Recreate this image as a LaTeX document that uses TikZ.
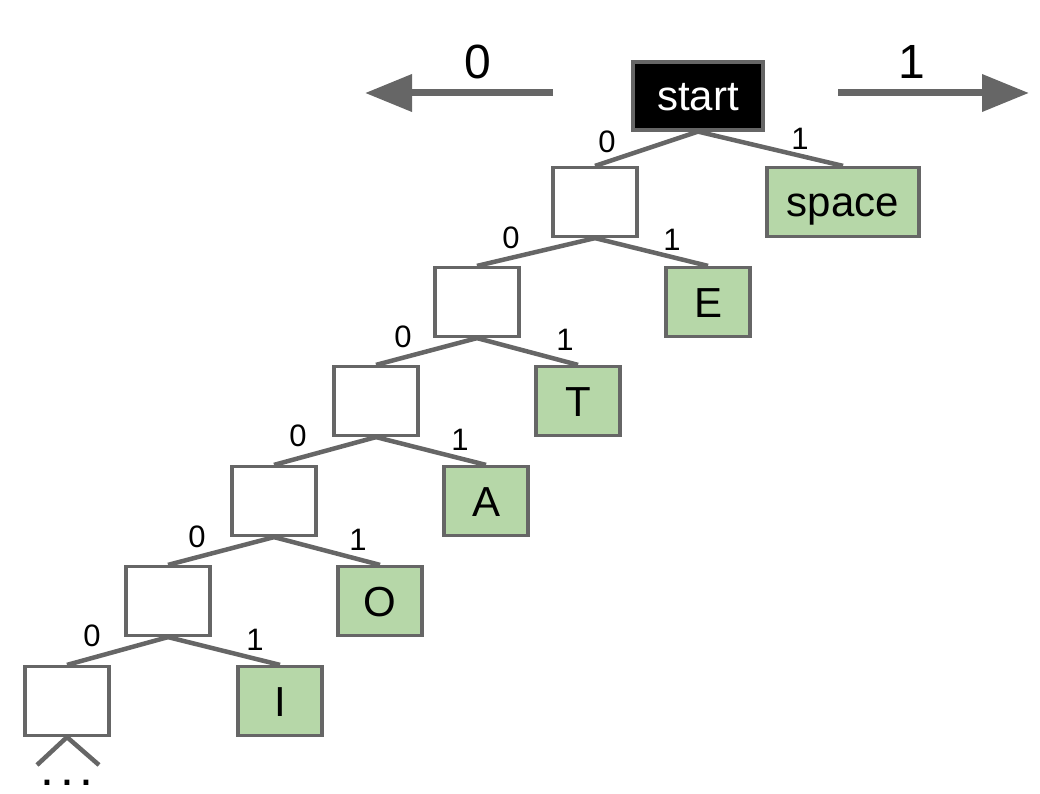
\documentclass[tikz,border=0pt]{standalone}
\usepackage{fontspec}
\setmainfont{Liberation Sans}
\usetikzlibrary{arrows.meta}
\definecolor{edgegray}{HTML}{666666}
\definecolor{leafgreen}{HTML}{B6D7A8}
\begin{document}
\begin{tikzpicture}[x=1pt,y=-1pt,
  box/.style={draw=edgegray,line width=3.2pt,minimum width=84pt,minimum height=69pt,inner sep=0pt,text height=30pt,text depth=0pt,font=\fontsize{42}{48}\selectfont},
  emptybox/.style={box,fill=white},
  leaf/.style={box,fill=leafgreen},
  edge/.style={draw=edgegray,line width=4.5pt},
  bit/.style={font=\fontsize{31}{36}\selectfont,inner sep=0pt},
  bigbit/.style={font=\fontsize{48}{54}\selectfont,inner sep=0pt},
  dirarrow/.style={draw=edgegray,line width=7pt,-{Triangle[length=47pt,width=36pt]}}]
\useasboundingbox (0,0) rectangle (1040,794);
% nodes
\node[box,fill=black,text=white,minimum width=130pt,minimum height=68pt] (start) at (698,96) {start};
\node[leaf,minimum width=152pt] (space) at (843,202) {space};
\node[emptybox] (n1) at (595,202) {};
\node[leaf] (E) at (708,302) {E};
\node[emptybox] (n2) at (477,302) {};
\node[leaf] (T) at (578,401) {T};
\node[emptybox] (n3) at (376,401) {};
\node[leaf] (A) at (486,501) {A};
\node[emptybox] (n4) at (274,501) {};
\node[leaf] (O) at (380,601) {O};
\node[emptybox] (n5) at (168,601) {};
\node[leaf] (I) at (280,701) {I};
\node[emptybox] (n6) at (67,701) {};
% edges
\draw[edge] (start.south) -- (n1.north);
\draw[edge] (start.south) -- (space.north);
\draw[edge] (n1.south) -- (n2.north);
\draw[edge] (n1.south) -- (E.north);
\draw[edge] (n2.south) -- (n3.north);
\draw[edge] (n2.south) -- (T.north);
\draw[edge] (n3.south) -- (n4.north);
\draw[edge] (n3.south) -- (A.north);
\draw[edge] (n4.south) -- (n5.north);
\draw[edge] (n4.south) -- (O.north);
\draw[edge] (n5.south) -- (n6.north);
\draw[edge] (n5.south) -- (I.north);
% edge labels
\node[bit] (l0a) at (607,142) {0};
\node[bit] (l1a) at (800,139) {1};
\node[bit] (l0b) at (511,238) {0};
\node[bit] (l1b) at (672,240) {1};
\node[bit] (l0c) at (403,337) {0};
\node[bit] (l1c) at (565,340) {1};
\node[bit] (l0d) at (298,436) {0};
\node[bit] (l1d) at (460,440) {1};
\node[bit] (l0e) at (197,537) {0};
\node[bit] (l1e) at (358,540) {1};
\node[bit] (l0f) at (92,636) {0};
\node[bit] (l1f) at (255,640) {1};
% continuation
\coordinate (c1) at (37,765);
\coordinate (c2) at (99,765);
\draw[edge] (n6.south) -- (c1);
\draw[edge] (n6.south) -- (c2);
\node[inner sep=0pt,font=\fontsize{50}{52}\selectfont,anchor=base,text height=8pt,text depth=0pt] (dots) at (67,785) {.\kern6pt.\kern6pt.};
% direction arrows
\coordinate (la) at (553,93);
\coordinate (lb) at (365,93);
\coordinate (ra) at (838,93);
\coordinate (rb) at (1029,93);
\draw[dirarrow] (la) -- (lb);
\draw[dirarrow] (ra) -- (rb);
\node[bigbit] (zero) at (478,62) {0};
\node[bigbit] (one) at (912,62) {1};
\end{tikzpicture}
\end{document}
